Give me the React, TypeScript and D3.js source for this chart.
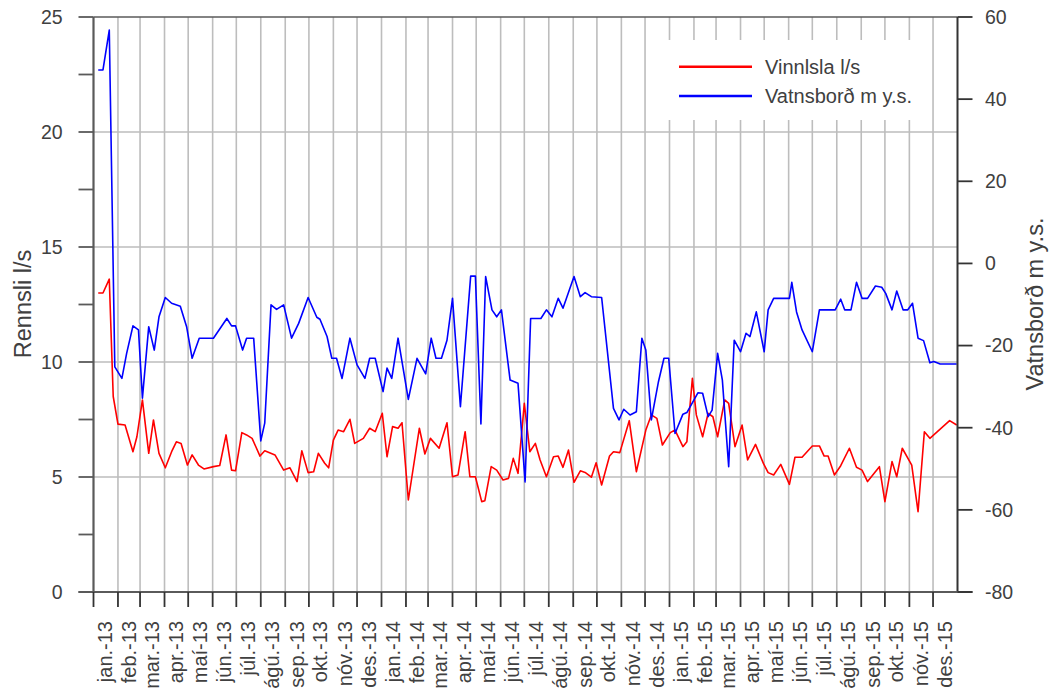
import React from "react";
import * as d3 from "d3";

// ---- data (day offsets since 2013-01-01) ----
const vinnslaDays = [6, 12, 20, 25, 31, 40, 50, 55, 62, 70, 76, 83, 91, 99, 105, 111, 119, 125, 133, 140, 152, 160, 168, 175, 180, 188, 194, 201, 211, 217, 230, 241, 249, 258, 264, 272, 279, 285, 293, 298, 304, 310, 317, 325, 331, 342, 350, 357, 366, 372, 379, 386, 391, 399, 413, 420, 427, 438, 448, 455, 462, 471, 477, 484, 492, 496, 504, 511, 519, 526, 532, 538, 546, 553, 560, 566, 574, 583, 589, 595, 602, 609, 617, 623, 631, 637, 644, 654, 659, 667, 679, 688, 700, 707, 714, 721, 731, 737, 747, 752, 759, 764, 772, 779, 785, 791, 800, 805, 813, 822, 829, 839, 849, 855, 862, 871, 882, 889, 898, 911, 920, 926, 931, 939, 947, 958, 967, 974, 981, 996, 1003, 1012, 1018, 1025, 1037, 1045, 1053, 1060, 1085, 1094];
const vinnslaValues = [13.0, 13.0, 13.6, 8.5, 7.3, 7.26, 6.1, 6.75, 8.35, 6.03, 7.48, 6.03, 5.4, 6.1, 6.53, 6.46, 5.52, 5.96, 5.52, 5.35, 5.45, 5.5, 6.83, 5.3, 5.27, 6.93, 6.83, 6.68, 5.91, 6.14, 5.96, 5.3, 5.4, 4.8, 6.14, 5.19, 5.23, 6.03, 5.6, 5.4, 6.6, 7.04, 6.97, 7.51, 6.46, 6.68, 7.12, 6.97, 7.77, 5.88, 7.19, 7.12, 7.36, 4.0, 7.12, 6.0, 6.68, 6.25, 7.36, 5.01, 5.09, 6.97, 5.01, 5.01, 3.93, 3.97, 5.45, 5.3, 4.87, 4.94, 5.81, 5.16, 8.2, 6.1, 6.46, 5.74, 5.01, 5.88, 5.91, 5.42, 6.17, 4.77, 5.27, 5.2, 4.99, 5.62, 4.65, 5.91, 6.1, 6.06, 7.45, 5.23, 7.04, 7.7, 7.55, 6.39, 6.93, 7.04, 6.32, 6.53, 9.29, 7.7, 6.75, 7.77, 7.62, 6.75, 8.35, 8.2, 6.32, 7.26, 5.74, 6.42, 5.59, 5.19, 5.09, 5.55, 4.68, 5.86, 5.86, 6.35, 6.35, 5.91, 5.91, 5.09, 5.49, 6.25, 5.42, 5.3, 4.8, 5.45, 3.93, 5.67, 5.01, 6.25, 5.52, 3.49, 6.97, 6.68, 7.45, 7.26];

const vatnsbordDays = [6, 12, 20, 27, 36, 42, 50, 57, 62, 70, 77, 83, 91, 99, 110, 118, 125, 134, 152, 169, 175, 180, 189, 194, 203, 212, 217, 225, 232, 241, 251, 260, 272, 283, 287, 296, 302, 308, 315, 325, 334, 344, 350, 357, 367, 372, 378, 386, 399, 410, 421, 428, 434, 441, 448, 455, 465, 478, 484, 491, 497, 505, 511, 517, 528, 538, 547, 554, 567, 574, 581, 589, 595, 609, 617, 623, 631, 644, 659, 666, 672, 680, 688, 695, 700, 707, 716, 723, 729, 737, 747, 752, 766, 772, 779, 784, 791, 797, 805, 812, 820, 827, 832, 840, 850, 855, 862, 882, 885, 891, 898, 911, 920, 940, 947, 952, 960, 967, 974, 981, 991, 999, 1004, 1012, 1018, 1026, 1032, 1038, 1045, 1052, 1060, 1065, 1073, 1094];
const vatnsbordValues = [47.1, 47.1, 56.8, -25.2, -28.0, -21.9, -15.2, -16.2, -32.8, -15.4, -21.1, -13.0, -8.3, -9.7, -10.4, -15.4, -23.1, -18.2, -18.2, -13.4, -15.2, -15.2, -21.1, -18.2, -18.2, -43.2, -38.9, -10.1, -11.2, -10.1, -18.2, -14.6, -8.3, -13.1, -13.6, -17.8, -23.1, -23.1, -28.0, -18.2, -24.7, -28.0, -23.1, -23.1, -31.2, -25.5, -28.0, -18.2, -33.1, -23.1, -26.9, -18.2, -23.1, -23.1, -18.7, -8.5, -34.9, -3.1, -3.1, -39.1, -3.2, -11.3, -13.0, -11.3, -28.4, -29.2, -53.2, -13.4, -13.4, -11.3, -13.0, -8.5, -10.9, -3.2, -8.1, -7.1, -8.1, -8.3, -35.3, -38.1, -35.5, -36.9, -36.1, -18.2, -21.1, -38.1, -28.8, -23.1, -23.1, -41.4, -36.7, -36.3, -31.5, -31.6, -37.3, -35.7, -21.9, -28.4, -49.5, -18.7, -21.5, -17.0, -17.8, -11.8, -21.5, -11.3, -8.5, -8.5, -4.6, -11.8, -16.2, -21.5, -11.3, -11.3, -8.7, -11.3, -11.3, -4.6, -8.5, -8.5, -5.5, -5.8, -7.3, -11.3, -6.7, -11.3, -11.3, -9.7, -18.2, -18.8, -24.2, -23.9, -24.5, -24.5];

const monthNames = ["jan.", "feb.", "mar.", "apr.", "maí", "jún.", "júl.", "ágú.", "sep.", "okt.", "nóv.", "des."];
const leftTicks = [0, 5, 10, 15, 20, 25];
const leftMinorTicks = [2.5, 7.5, 12.5, 17.5, 22.5];
const rightTicks = [-80, -60, -40, -20, 0, 20, 40, 60];
const seriesNames = ["Vinnlsla l/s", "Vatnsborð m y.s."];
const leftTitle = "Rennsli l/s";
const rightTitle = "Vatnsborð m y.s.";

const START = new Date(2013, 0, 1);
const END = new Date(2016, 0, 1);

export default function App() {
  const W = 1053, H = 691;
  const L = 93.5, R = 957.5, T = 17, B = 592;
  const x = d3.scaleTime().domain([START, END]).range([L, R]);
  const yL = d3.scaleLinear().domain([0, 25]).range([B, T]);
  const yR = d3.scaleLinear().domain([-80, 60]).range([B, T]);
  const months = d3.timeMonth.range(START, END);

  const redPts = vinnslaDays.map((d, i) => [x(d3.timeDay.offset(START, d)), yL(vinnslaValues[i])] as [number, number]);
  const bluePts = vatnsbordDays.map((d, i) => [x(d3.timeDay.offset(START, d)), yR(vatnsbordValues[i])] as [number, number]);
  const line = d3.line();

  const font = "'Liberation Sans', Arial, sans-serif";
  const txt = "#404040";
  const grid = "#bdbdbd";
  const axis = "#5a5a5a";

  return (
    <div style={{ position: "absolute", left: 0, top: 0 }}>
      <svg width={W} height={H} style={{ display: "block", background: "#fff" }} fontFamily={font}>
        {/* gridlines */}
        {months.slice(1).map((m, i) => (
          <line key={"vg" + i} x1={x(m)} x2={x(m)} y1={T} y2={B} stroke={grid} strokeWidth={1.6} />
        ))}
        {leftTicks.slice(1, -1).map((v) => (
          <line key={"hg" + v} x1={L} x2={R} y1={yL(v)} y2={yL(v)} stroke={grid} strokeWidth={1.6} />
        ))}
        {/* legend box */}
        <rect x={647} y={40} width={284} height={80} fill="#fff" />
        {/* series */}
        <path d={line(redPts) || ""} fill="none" stroke="#ff0000" strokeWidth={1.6} strokeLinejoin="round" />
        <path d={line(bluePts) || ""} fill="none" stroke="#0000ff" strokeWidth={1.6} strokeLinejoin="round" />
        {/* frame / axes */}
        <line x1={L} x2={R} y1={T} y2={T} stroke={axis} strokeWidth={1.6} />
        <line x1={L} x2={L} y1={T} y2={B + 1} stroke={axis} strokeWidth={2.2} />
        <line x1={R} x2={R} y1={T} y2={B + 1} stroke="#333" strokeWidth={2} />
        <line x1={L - 15} x2={R + 15} y1={B} y2={B} stroke={axis} strokeWidth={2.2} />
        {/* left ticks */}
        {leftTicks.concat(leftMinorTicks).map((v) => (
          <line key={"lt" + v} x1={L - 15} x2={L} y1={yL(v)} y2={yL(v)} stroke={axis} strokeWidth={1.8} />
        ))}
        {leftTicks.map((v) => (
          <text key={"ll" + v} x={62.7} y={yL(v)} dy="0.35em" textAnchor="end" fontSize={19.5} fill={txt}>{v}</text>
        ))}
        {/* right ticks */}
        {rightTicks.map((v) => (
          <line key={"rt" + v} x1={R} x2={R + 15} y1={yR(v)} y2={yR(v)} stroke="#333" strokeWidth={1.8} />
        ))}
        {rightTicks.map((v) => (
          <text key={"rl" + v} x={985} y={yR(v)} dy="0.35em" textAnchor="start" fontSize={19.5} fill={txt}>{v}</text>
        ))}
        {/* x ticks and labels */}
        {months.map((m, i) => (
          <line key={"xt" + i} x1={x(m)} x2={x(m)} y1={B} y2={B + 15} stroke="#333" strokeWidth={1.8} />
        ))}
        {months.map((m, i) => {
          const lbl = monthNames[m.getMonth()] + "-" + String(m.getFullYear()).slice(2);
          return (
            <text key={"xl" + i} transform={`translate(${x(m) + 18.5},621) rotate(-90)`} textAnchor="end" fontSize={20} fill={txt}>{lbl}</text>
          );
        })}
        {/* axis titles */}
        <text transform="translate(31,304) rotate(-90)" textAnchor="middle" fontSize={23.5} fill={txt}>{leftTitle}</text>
        <text transform="translate(1043,304) rotate(-90)" textAnchor="middle" fontSize={23.5} fill={txt}>{rightTitle}</text>
        {/* legend */}
        <line x1={679} x2={752} y1={66.7} y2={66.7} stroke="#ff0000" strokeWidth={2.4} />
        <line x1={679} x2={752} y1={96} y2={96} stroke="#0000ff" strokeWidth={2.4} />
        <text x={765} y={66.7} dy="0.35em" fontSize={20} fill={txt}>{seriesNames[0]}</text>
        <text x={765} y={96} dy="0.35em" fontSize={20} fill={txt}>{seriesNames[1]}</text>
      </svg>
    </div>
  );
}
